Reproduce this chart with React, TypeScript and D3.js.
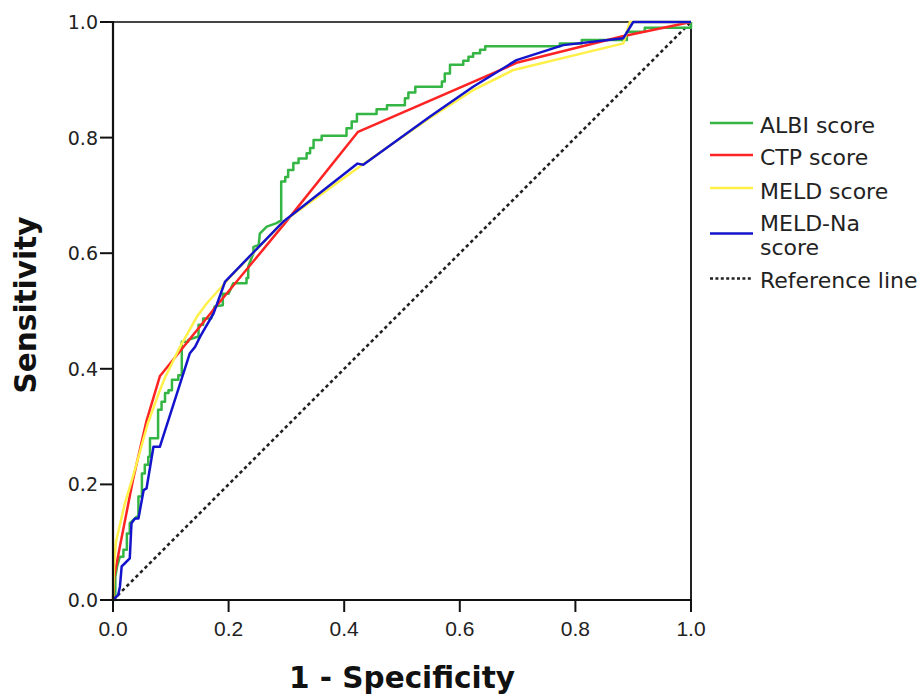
import React from "react";
import * as d3 from "d3";

type Pt = [number, number];

const seriesNames = ["ALBI score", "CTP score", "MELD score", "MELD-Na score"];
const seriesColors = ["#34b544", "#ff2424", "#fff04a", "#1414cc"];

const albi: Pt[] = [
  [0, 0], [0.004, 0], [0.004, 0.04], [0.007, 0.058], [0.012, 0.075], [0.018, 0.075], [0.018, 0.087],
  [0.024, 0.087], [0.024, 0.115], [0.029, 0.115], [0.029, 0.133], [0.041, 0.144], [0.044, 0.144],
  [0.044, 0.179], [0.05, 0.179], [0.05, 0.219], [0.055, 0.219], [0.055, 0.234], [0.061, 0.234],
  [0.061, 0.248], [0.064, 0.248], [0.064, 0.28], [0.078, 0.28], [0.078, 0.329], [0.084, 0.329],
  [0.084, 0.343], [0.09, 0.343], [0.09, 0.358], [0.096, 0.358], [0.096, 0.363], [0.102, 0.363],
  [0.102, 0.381], [0.113, 0.381], [0.113, 0.389], [0.119, 0.389], [0.119, 0.447], [0.13, 0.447],
  [0.13, 0.45], [0.145, 0.455], [0.148, 0.455], [0.148, 0.476], [0.156, 0.476], [0.156, 0.487],
  [0.17, 0.487], [0.176, 0.508], [0.19, 0.51], [0.19, 0.53], [0.2, 0.53], [0.208, 0.548],
  [0.231, 0.548], [0.231, 0.557], [0.234, 0.557], [0.234, 0.577], [0.243, 0.6], [0.243, 0.611],
  [0.252, 0.614], [0.254, 0.634], [0.26, 0.64], [0.266, 0.646], [0.283, 0.652], [0.291, 0.657],
  [0.291, 0.724], [0.298, 0.724], [0.298, 0.732], [0.303, 0.732], [0.303, 0.744], [0.312, 0.744],
  [0.312, 0.756], [0.321, 0.756], [0.321, 0.764], [0.335, 0.764], [0.335, 0.773], [0.341, 0.773],
  [0.341, 0.782], [0.347, 0.782], [0.347, 0.796], [0.361, 0.796], [0.361, 0.803], [0.404, 0.803],
  [0.404, 0.816], [0.413, 0.816], [0.413, 0.828], [0.422, 0.828], [0.422, 0.841], [0.456, 0.841],
  [0.456, 0.849], [0.474, 0.849], [0.474, 0.856], [0.505, 0.856], [0.505, 0.868], [0.511, 0.868],
  [0.511, 0.878], [0.523, 0.878], [0.523, 0.888], [0.569, 0.888], [0.569, 0.897], [0.574, 0.897],
  [0.574, 0.911], [0.583, 0.911], [0.583, 0.926], [0.606, 0.926], [0.606, 0.933], [0.615, 0.933],
  [0.615, 0.94], [0.623, 0.94], [0.623, 0.946], [0.635, 0.946], [0.635, 0.952], [0.644, 0.952],
  [0.644, 0.958], [0.773, 0.958], [0.773, 0.963], [0.811, 0.963], [0.811, 0.969], [0.889, 0.969],
  [0.889, 0.983], [0.92, 0.983], [0.92, 0.99], [1, 0.99], [1, 1],
];

const ctp: Pt[] = [
  [0, 0], [0.002, 0.04], [0.012, 0.093], [0.035, 0.21], [0.058, 0.31], [0.081, 0.387],
  [0.18, 0.51], [0.3, 0.655], [0.424, 0.81], [0.7, 0.93], [0.88, 0.975], [1, 1],
];

const meld: Pt[] = [
  [0, 0], [0.002, 0.06], [0.005, 0.1], [0.02, 0.165], [0.035, 0.215], [0.06, 0.305], [0.08, 0.36],
  [0.09, 0.385], [0.116, 0.438], [0.145, 0.49], [0.162, 0.513], [0.188, 0.542], [0.2, 0.556],
  [0.295, 0.655], [0.43, 0.752], [0.548, 0.834], [0.623, 0.882], [0.693, 0.917], [0.883, 0.963],
  [0.894, 1], [1, 1],
];

const meldNa: Pt[] = [
  [0, 0], [0.009, 0.009], [0.012, 0.023], [0.015, 0.058], [0.021, 0.064], [0.029, 0.072],
  [0.032, 0.133], [0.038, 0.141], [0.044, 0.141], [0.053, 0.19], [0.058, 0.193], [0.07, 0.265],
  [0.081, 0.265], [0.133, 0.427], [0.142, 0.438], [0.151, 0.456], [0.174, 0.496], [0.194, 0.551],
  [0.295, 0.655], [0.423, 0.755], [0.433, 0.753], [0.548, 0.836], [0.623, 0.888], [0.698, 0.934],
  [0.779, 0.96], [0.883, 0.972], [0.9, 1], [1, 1],
];

const referenceLine: Pt[] = [[0, 0], [1, 1]];
const tickValues = [0, 0.2, 0.4, 0.6, 0.8, 1.0];
const xTitle = "1 - Specificity";
const yTitle = "Sensitivity";

export default function App() {
  const W = 920, H = 695;
  const x = d3.scaleLinear().domain([0, 1]).range([113, 691]);
  const y = d3.scaleLinear().domain([0, 1]).range([600, 22]);
  const line = d3.line<Pt>().x((d) => x(d[0])).y((d) => y(d[1]));
  const all = [albi, ctp, meld, meldNa];
  const fmt = d3.format(".1f");

  const legendItems = [
    { label: ["ALBI score"], color: seriesColors[0], ly: 123, ty: [132.5], dash: false },
    { label: ["CTP score"], color: seriesColors[1], ly: 155, ty: [165], dash: false },
    { label: ["MELD score"], color: seriesColors[2], ly: 188, ty: [199], dash: false },
    { label: ["MELD-Na", "score"], color: seriesColors[3], ly: 233.5, ty: [230.5, 255], dash: false },
    { label: ["Reference line"], color: "#222", ly: 278.5, ty: [288], dash: true },
  ];

  return (
    <svg width={W} height={H} style={{ position: "absolute", left: 0, top: 0, background: "#fff" }}>
      <rect x={0} y={0} width={W} height={H} fill="#fff" />
      {/* frame */}
      <line x1={113} x2={691} y1={22} y2={22} stroke="#444" strokeWidth={2} />
      <line x1={691} x2={691} y1={22} y2={600} stroke="#222" strokeWidth={2} />
      {/* reference line */}
      <path d={line(referenceLine) || ""} fill="none" stroke="#222" strokeWidth={2.6} strokeDasharray="3.4,3" />
      {all.map((s, i) => (
        <path key={i} d={line(s) || ""} fill="none" stroke={seriesColors[i]} strokeWidth={2.5} strokeLinejoin="round" />
      ))}
      {/* axes */}
      <line x1={113} x2={113} y1={21} y2={601} stroke="#111" strokeWidth={2.2} />
      <line x1={112} x2={692} y1={600} y2={600} stroke="#111" strokeWidth={2.2} />
      {tickValues.map((t) => (
        <g key={"y" + t}>
          <line x1={100} x2={113} y1={y(t)} y2={y(t)} stroke="#111" strokeWidth={2} />
          <text x={98} y={y(t) + 7} textAnchor="end" fontFamily="DejaVu Sans" fontSize={19} fill="#222">
            {fmt(t)}
          </text>
        </g>
      ))}
      {tickValues.map((t) => (
        <g key={"x" + t}>
          <line x1={x(t)} x2={x(t)} y1={600} y2={612} stroke="#111" strokeWidth={2} />
          <text x={x(t)} y={636} textAnchor="middle" fontFamily="Liberation Sans, Arial" fontSize={21} fill="#222">
            {fmt(t)}
          </text>
        </g>
      ))}
      <text x={402} y={688} textAnchor="middle" fontFamily="DejaVu Sans" fontWeight="bold" fontSize={29.5} fill="#111">
        {xTitle}
      </text>
      <text transform={`translate(36,305) rotate(-90)`} textAnchor="middle" fontFamily="DejaVu Sans" fontWeight="bold" fontSize={29.5} fill="#111">
        {yTitle}
      </text>
      {/* legend */}
      {legendItems.map((it, i) => (
        <g key={"lg" + i}>
          <line x1={710} x2={753} y1={it.ly} y2={it.ly} stroke={it.color} strokeWidth={2.5} strokeDasharray={it.dash ? "3,2.4" : undefined} />
          {it.label.map((lb, j) => (
            <text key={j} x={760} y={it.ty[j]} fontFamily="DejaVu Sans" fontSize={22} fill="#222">
              {lb}
            </text>
          ))}
        </g>
      ))}
    </svg>
  );
}
